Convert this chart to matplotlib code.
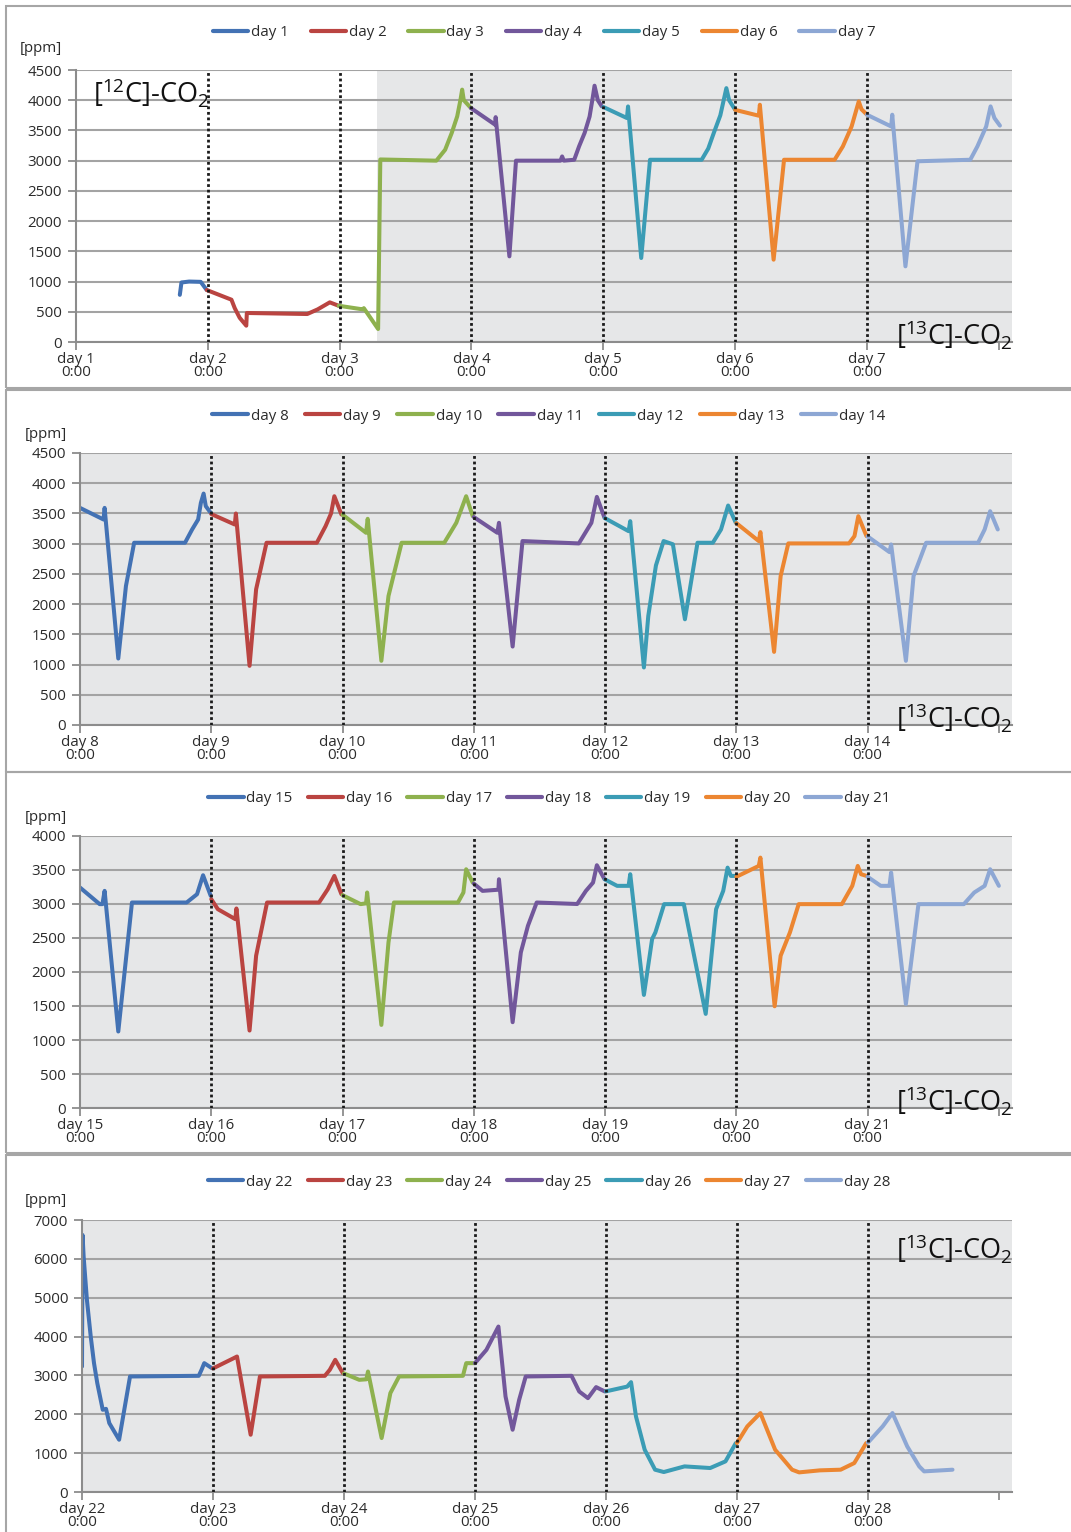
import matplotlib
matplotlib.use("Agg")
import matplotlib.pyplot as plt
from matplotlib.patches import Rectangle

plt.rcParams['font.family'] = ['Open Sans', 'DejaVu Sans']
plt.rcParams['font.size'] = 10.5

# hours after each day's 0:00 and CO2 in ppm
day01_h = [18.9, 19.2, 20.6, 22.7, 23.8]
day01_ppm = [780, 985, 1000, 995, 860]
day02_h = [-0.2, 4.3, 4.9, 5.8, 7.0, 7.1, 18.1, 20.0, 22.2, 23.8]
day02_ppm = [860, 700, 560, 400, 270, 480, 463, 540, 656, 600]
day03_h = [-0.2, 4.2, 4.4, 7.0, 7.4, 17.6, 19.2, 20.4, 21.4, 22.0, 22.3, 22.6, 23.9]
day03_ppm = [600, 540, 560, 215, 3020, 3000, 3180, 3458, 3733, 4010, 4175, 4000, 3870]
day04_h = [-0.1, 4.3, 4.4, 6.9, 8.1, 16.2, 16.5, 16.8, 18.7, 19.6, 20.6, 21.5, 22.1, 22.4, 23.0, 23.7]
day04_ppm = [3870, 3595, 3720, 1417, 3000, 3000, 3070, 3000, 3015, 3240, 3460, 3730, 4060, 4240, 4000, 3900]
day05_h = [0.0, 4.3, 4.5, 6.9, 8.5, 17.9, 19.1, 20.1, 21.3, 22.4, 22.9, 24.0]
day05_ppm = [3888, 3705, 3897, 1390, 3015, 3015, 3200, 3456, 3750, 4200, 4000, 3842]
day06_h = [0.0, 4.3, 4.5, 7.0, 8.9, 18.1, 19.6, 21.2, 22.5, 23.0, 24.0]
day06_ppm = [3840, 3744, 3925, 1362, 3015, 3015, 3235, 3566, 3980, 3850, 3760]
day07_h = [0.0, 4.4, 4.6, 7.0, 9.2, 18.8, 20.1, 21.7, 22.5, 23.2, 24.2]
day07_ppm = [3760, 3566, 3760, 1252, 2990, 3015, 3236, 3566, 3898, 3705, 3580]

day08_h = [0.0, 4.3, 4.5, 7.0, 8.4, 9.9, 19.2, 20.5, 21.6, 22.1, 22.6, 23.0, 23.9]
day08_ppm = [3592, 3400, 3592, 1100, 2300, 3015, 3015, 3235, 3400, 3675, 3829, 3620, 3510]
day09_h = [0.0, 4.3, 4.5, 7.0, 8.2, 10.1, 19.3, 20.9, 21.9, 22.5, 23.8]
day09_ppm = [3490, 3317, 3499, 979, 2245, 3015, 3015, 3290, 3500, 3785, 3482]
day10_h = [0.0, 4.3, 4.6, 7.1, 8.4, 10.8, 18.6, 20.8, 22.6, 23.8]
day10_ppm = [3480, 3180, 3411, 1062, 2134, 3015, 3015, 3345, 3785, 3455]
day11_h = [0.0, 4.3, 4.6, 7.1, 8.9, 19.2, 21.5, 22.5, 23.9]
day11_ppm = [3440, 3180, 3345, 1298, 3043, 3004, 3345, 3774, 3427]
day12_h = [0.0, 4.3, 4.6, 7.1, 7.9, 9.3, 10.7, 12.4, 14.6, 16.9, 19.7, 21.2, 22.5, 23.9]
day12_ppm = [3420, 3207, 3372, 952, 1804, 2640, 3043, 2990, 1749, 3015, 3015, 3235, 3631, 3345]
day13_h = [0.0, 4.1, 4.4, 6.9, 8.1, 9.5, 20.6, 21.6, 22.3, 23.8]
day13_ppm = [3340, 3043, 3191, 1210, 2464, 3004, 3004, 3125, 3455, 3125]
day14_h = [0.0, 4.0, 4.3, 7.0, 8.4, 10.7, 20.2, 21.4, 22.4, 23.8]
day14_ppm = [3120, 2860, 2987, 1062, 2464, 3015, 3015, 3235, 3537, 3235]

day15_h = [0.0, 3.6, 4.1, 4.5, 7.0, 9.5, 19.5, 21.4, 22.5, 23.9]
day15_ppm = [3242, 2998, 2998, 3193, 1125, 3022, 3022, 3144, 3423, 3120]
day16_h = [0.0, 1.2, 4.4, 4.6, 7.0, 8.2, 10.2, 19.7, 21.3, 22.5, 23.8]
day16_ppm = [3071, 2924, 2777, 2934, 1139, 2240, 3022, 3022, 3217, 3413, 3144]
day17_h = [0.0, 3.3, 4.3, 4.5, 7.1, 8.4, 9.4, 21.1, 22.1, 22.6, 23.8]
day17_ppm = [3130, 2998, 3010, 3169, 1222, 2435, 3022, 3022, 3169, 3511, 3315]
day18_h = [0.0, 1.6, 4.5, 4.6, 7.1, 8.6, 9.9, 11.5, 18.9, 20.5, 21.8, 22.5, 23.9]
day18_ppm = [3300, 3193, 3210, 3364, 1262, 2288, 2680, 3022, 3000, 3193, 3315, 3570, 3364]
day19_h = [0.0, 2.2, 4.3, 4.6, 7.1, 8.6, 9.2, 10.8, 14.4, 18.4, 20.3, 21.6, 22.4, 23.0, 24.0]
day19_ppm = [3360, 3267, 3267, 3438, 1663, 2484, 2582, 2998, 2998, 1384, 2924, 3193, 3535, 3413, 3413]
day20_h = [0.0, 4.1, 4.4, 7.0, 8.1, 9.8, 11.4, 19.3, 21.2, 22.2, 22.8, 23.8]
day20_ppm = [3400, 3560, 3682, 1496, 2240, 2582, 2998, 2998, 3267, 3560, 3438, 3413]
day21_h = [0.0, 2.4, 4.0, 4.3, 7.0, 9.3, 17.6, 19.5, 21.4, 22.4, 24.0]
day21_ppm = [3400, 3267, 3267, 3462, 1530, 2998, 2998, 3169, 3267, 3511, 3267]

day22_h = [0.0, 0.1, 0.3, 0.9, 1.6, 2.2, 2.8, 3.8, 4.4, 5.0, 6.8, 8.8, 21.4, 21.9, 22.4, 23.8]
day22_ppm = [3230, 6614, 6057, 4944, 4001, 3316, 2802, 2116, 2140, 1773, 1345, 2973, 2990, 3144, 3316, 3187]
day23_h = [0.0, 3.8, 4.4, 6.9, 8.6, 20.5, 21.4, 22.4, 23.8]
day23_ppm = [3180, 3444, 3487, 1474, 2973, 2990, 3144, 3401, 3059]
day24_h = [0.0, 2.8, 4.1, 4.4, 6.9, 8.5, 10.1, 21.8, 22.4, 24.0]
day24_ppm = [3050, 2887, 2900, 3101, 1388, 2545, 2973, 2990, 3316, 3316]
day25_h = [0.0, 2.1, 4.3, 5.6, 6.9, 8.1, 9.3, 17.7, 19.1, 20.7, 22.2, 23.8]
day25_ppm = [3316, 3659, 4258, 2459, 1602, 2373, 2973, 2990, 2587, 2416, 2699, 2587]
day26_h = [0.0, 3.9, 4.6, 5.5, 7.1, 9.0, 10.6, 14.4, 19.1, 21.9, 23.8]
day26_ppm = [2590, 2713, 2827, 1945, 1088, 574, 514, 659, 617, 788, 1260]
day27_h = [0.0, 1.9, 4.3, 7.0, 10.1, 11.4, 15.2, 19.0, 21.5, 23.7]
day27_ppm = [1260, 1688, 2031, 1088, 574, 505, 557, 574, 745, 1260]
day28_h = [0.0, 2.7, 4.5, 7.2, 9.4, 10.3, 15.5]
day28_ppm = [1270, 1688, 2031, 1174, 659, 531, 574]

hours = [day01_h, day02_h, day03_h, day04_h, day05_h, day06_h, day07_h,
         day08_h, day09_h, day10_h, day11_h, day12_h, day13_h, day14_h,
         day15_h, day16_h, day17_h, day18_h, day19_h, day20_h, day21_h,
         day22_h, day23_h, day24_h, day25_h, day26_h, day27_h, day28_h]
ppm = [day01_ppm, day02_ppm, day03_ppm, day04_ppm, day05_ppm, day06_ppm, day07_ppm,
       day08_ppm, day09_ppm, day10_ppm, day11_ppm, day12_ppm, day13_ppm, day14_ppm,
       day15_ppm, day16_ppm, day17_ppm, day18_ppm, day19_ppm, day20_ppm, day21_ppm,
       day22_ppm, day23_ppm, day24_ppm, day25_ppm, day26_ppm, day27_ppm, day28_ppm]

y_max = [4500, 4500, 4000, 7000]
y_step = [500, 500, 500, 1000]
label_12c = 2.285   # day 3, ~7:00 -> switch to 13C (panel 1 shading start)

day_colors = ['#4372B4', '#BA4441', '#8EB14E', '#72579B', '#3B9CB5', '#EC8631', '#8DA7D4']
bg = '#E6E7E8'
grid_c = '#A3A3A3'
txt_c = '#2b2b2b'

W, H = 1071, 1532
fig = plt.figure(figsize=(W / 100, H / 100), dpi=100)

# pixel layout of the four stacked charts
ax_left = [76, 80, 80, 82]
ax_top = [70, 453, 836, 1220]
ax_right = 1012
ax_h = 272
box_top = [6, 390, 772, 1155]
box_bot = [388, 772, 1153, 1545]
legend_y = [33, 416, 799, 1182]
ppm_y = [48, 435, 818, 1200]
ppm_x = [20, 25, 25, 25]
legend_x = [544, 549, 549, 549]
col_space = [1.45, 1.1, 1.0, 1.0]

for p in range(4):
    fig.patches.append(Rectangle((6 / W, 1 - box_bot[p] / H),
                                 (1100 - 6) / W, (box_bot[p] - box_top[p]) / H,
                                 transform=fig.transFigure, fill=False,
                                 ec='#A6A6A6', lw=1.5, zorder=0))

    ax = fig.add_axes([ax_left[p] / W, 1 - (ax_top[p] + ax_h) / H,
                       (ax_right - ax_left[p]) / W, ax_h / H])
    if p == 0:
        ax.set_facecolor('white')
        ax.axvspan(label_12c, 7.2, color=bg, lw=0, zorder=0.2)
    else:
        ax.set_facecolor(bg)
    ax.set_axisbelow(True)

    lines = []
    for k in range(7):
        d = p * 7 + k
        x = [k + h / 24 for h in hours[d]]
        ln, = ax.plot(x, ppm[d], color=day_colors[k], lw=2.9,
                      solid_joinstyle='round', solid_capstyle='round',
                      zorder=2, label=f'day {d + 1}')
        lines.append(ln)

    for k in range(1, 7):
        ax.axvline(k, color='#1a1a1a', ls=(0, (1.0, 1.0)), lw=2.0, zorder=3)

    ax.set_xlim(0, 7.1)
    ax.set_ylim(0, y_max[p])
    ax.set_yticks(range(0, y_max[p] + 1, y_step[p]))
    ax.set_xticks(range(8))
    ax.set_xticklabels([f'day {p * 7 + k + 1}\n0:00' for k in range(7)] + [''])
    for lab in ax.get_xticklabels():
        lab.set_linespacing(0.78)
    ax.grid(axis='y', color=grid_c, lw=1.5)
    ax.tick_params(axis='both', colors='#8C8C8C', labelcolor=txt_c,
                   labelsize=10.8, length=6, width=1.3, pad=1.5)
    ax.tick_params(axis='y', pad=4)
    for s in ['top', 'right']:
        ax.spines[s].set_visible(False)
    for s in ['left', 'bottom']:
        ax.spines[s].set_color('#8C8C8C')
        ax.spines[s].set_linewidth(1.5)

    leg = ax.legend(handles=lines, ncol=7, loc='center', frameon=False,
                    bbox_to_anchor=(legend_x[p] / W, 1 - legend_y[p] / H),
                    bbox_transform=fig.transFigure, handlelength=2.35,
                    handletextpad=0.2, columnspacing=col_space[p], fontsize=10.8)
    for t in leg.get_texts():
        t.set_color(txt_c)
    for hl in leg.get_lines():
        hl.set_linewidth(3.0)

    fig.text(ppm_x[p] / W, 1 - ppm_y[p] / H, '[ppm]', ha='left', va='center',
             color=txt_c, fontsize=10.8)

    if p == 0:
        ax.text(0.018, 0.975, r'[$\mathregular{^{12}}$C]-CO$\mathregular{_2}$',
                transform=ax.transAxes, ha='left', va='top', fontsize=19.5, color='#111')
    if p < 3:
        ax.text(1.0, -0.035, r'[$\mathregular{^{13}}$C]-CO$\mathregular{_2}$',
                transform=ax.transAxes, ha='right', va='bottom', fontsize=19.5, color='#111')
    else:
        ax.text(1.0, 0.955, r'[$\mathregular{^{13}}$C]-CO$\mathregular{_2}$',
                transform=ax.transAxes, ha='right', va='top', fontsize=19.5, color='#111')

fig.savefig('out.png', dpi=100)
